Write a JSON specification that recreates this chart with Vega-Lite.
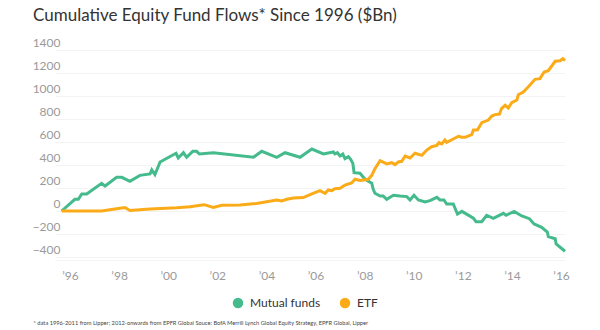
{
  "$schema": "https://vega.github.io/schema/vega-lite/v6.json",
  "autosize": {"type": "none"},
  "padding": {"left": 55, "top": 50, "right": 35, "bottom": 73},
  "width": 510,
  "height": 207,
  "background": "white",
  "title": {
    "text": "Cumulative Equity Fund Flows* Since 1996 ($Bn)",
    "anchor": "start",
    "frame": "group",
    "dx": -22,
    "offset": 12,
    "font": "Lato",
    "fontSize": 17,
    "fontWeight": "normal",
    "color": "#333333"
  },
  "config": {
    "view": {"stroke": null},
    "font": "Lato"
  },
  "data": {
    "values": [
      {"series": "Mutual funds", "t": 1995.66, "v": 0},
      {"series": "Mutual funds", "t": 1996.20, "v": 102},
      {"series": "Mutual funds", "t": 1996.34, "v": 102},
      {"series": "Mutual funds", "t": 1996.48, "v": 148},
      {"series": "Mutual funds", "t": 1996.68, "v": 148},
      {"series": "Mutual funds", "t": 1997.29, "v": 241},
      {"series": "Mutual funds", "t": 1997.43, "v": 217},
      {"series": "Mutual funds", "t": 1997.90, "v": 293},
      {"series": "Mutual funds", "t": 1998.11, "v": 293},
      {"series": "Mutual funds", "t": 1998.44, "v": 258},
      {"series": "Mutual funds", "t": 1998.85, "v": 310},
      {"series": "Mutual funds", "t": 1999.26, "v": 322},
      {"series": "Mutual funds", "t": 1999.33, "v": 357},
      {"series": "Mutual funds", "t": 1999.46, "v": 316},
      {"series": "Mutual funds", "t": 1999.67, "v": 426},
      {"series": "Mutual funds", "t": 2000.32, "v": 502},
      {"series": "Mutual funds", "t": 2000.41, "v": 461},
      {"series": "Mutual funds", "t": 2000.62, "v": 507},
      {"series": "Mutual funds", "t": 2000.75, "v": 467},
      {"series": "Mutual funds", "t": 2001.00, "v": 519},
      {"series": "Mutual funds", "t": 2001.16, "v": 519},
      {"series": "Mutual funds", "t": 2001.27, "v": 496},
      {"series": "Mutual funds", "t": 2001.84, "v": 507},
      {"series": "Mutual funds", "t": 2003.47, "v": 467},
      {"series": "Mutual funds", "t": 2003.81, "v": 519},
      {"series": "Mutual funds", "t": 2004.42, "v": 467},
      {"series": "Mutual funds", "t": 2004.76, "v": 507},
      {"series": "Mutual funds", "t": 2005.37, "v": 467},
      {"series": "Mutual funds", "t": 2005.85, "v": 539},
      {"series": "Mutual funds", "t": 2006.32, "v": 496},
      {"series": "Mutual funds", "t": 2006.73, "v": 513},
      {"series": "Mutual funds", "t": 2006.79, "v": 496},
      {"series": "Mutual funds", "t": 2006.89, "v": 507},
      {"series": "Mutual funds", "t": 2007.00, "v": 478},
      {"series": "Mutual funds", "t": 2007.11, "v": 496},
      {"series": "Mutual funds", "t": 2007.20, "v": 455},
      {"series": "Mutual funds", "t": 2007.34, "v": 472},
      {"series": "Mutual funds", "t": 2007.43, "v": 450},
      {"series": "Mutual funds", "t": 2007.52, "v": 414},
      {"series": "Mutual funds", "t": 2007.57, "v": 333},
      {"series": "Mutual funds", "t": 2007.81, "v": 328},
      {"series": "Mutual funds", "t": 2008.02, "v": 276},
      {"series": "Mutual funds", "t": 2008.29, "v": 241},
      {"series": "Mutual funds", "t": 2008.35, "v": 188},
      {"series": "Mutual funds", "t": 2008.42, "v": 154},
      {"series": "Mutual funds", "t": 2008.63, "v": 130},
      {"series": "Mutual funds", "t": 2008.76, "v": 130},
      {"series": "Mutual funds", "t": 2008.90, "v": 102},
      {"series": "Mutual funds", "t": 2009.17, "v": 137},
      {"series": "Mutual funds", "t": 2009.44, "v": 130},
      {"series": "Mutual funds", "t": 2009.72, "v": 125},
      {"series": "Mutual funds", "t": 2009.85, "v": 96},
      {"series": "Mutual funds", "t": 2010.01, "v": 137},
      {"series": "Mutual funds", "t": 2010.19, "v": 96},
      {"series": "Mutual funds", "t": 2010.46, "v": 78},
      {"series": "Mutual funds", "t": 2010.66, "v": 90},
      {"series": "Mutual funds", "t": 2010.94, "v": 119},
      {"series": "Mutual funds", "t": 2011.07, "v": 96},
      {"series": "Mutual funds", "t": 2011.23, "v": 96},
      {"series": "Mutual funds", "t": 2011.34, "v": 61},
      {"series": "Mutual funds", "t": 2011.61, "v": 61},
      {"series": "Mutual funds", "t": 2011.78, "v": -26},
      {"series": "Mutual funds", "t": 2011.96, "v": -3},
      {"series": "Mutual funds", "t": 2012.43, "v": -63},
      {"series": "Mutual funds", "t": 2012.54, "v": -93},
      {"series": "Mutual funds", "t": 2012.77, "v": -93},
      {"series": "Mutual funds", "t": 2012.97, "v": -37},
      {"series": "Mutual funds", "t": 2013.24, "v": -63},
      {"series": "Mutual funds", "t": 2013.65, "v": -20},
      {"series": "Mutual funds", "t": 2013.76, "v": -37},
      {"series": "Mutual funds", "t": 2014.09, "v": -3},
      {"series": "Mutual funds", "t": 2014.40, "v": -43},
      {"series": "Mutual funds", "t": 2014.71, "v": -67},
      {"series": "Mutual funds", "t": 2014.90, "v": -113},
      {"series": "Mutual funds", "t": 2015.21, "v": -142},
      {"series": "Mutual funds", "t": 2015.44, "v": -183},
      {"series": "Mutual funds", "t": 2015.48, "v": -223},
      {"series": "Mutual funds", "t": 2015.76, "v": -241},
      {"series": "Mutual funds", "t": 2015.80, "v": -287},
      {"series": "Mutual funds", "t": 2016.16, "v": -350},
      {"series": "ETF", "t": 1995.66, "v": 0},
      {"series": "ETF", "t": 1997.29, "v": 0},
      {"series": "ETF", "t": 1997.90, "v": 20},
      {"series": "ETF", "t": 1998.24, "v": 30},
      {"series": "ETF", "t": 1998.44, "v": 5},
      {"series": "ETF", "t": 1999.26, "v": 18},
      {"series": "ETF", "t": 2000.35, "v": 28},
      {"series": "ETF", "t": 2000.89, "v": 37},
      {"series": "ETF", "t": 2001.46, "v": 55},
      {"series": "ETF", "t": 2001.84, "v": 30},
      {"series": "ETF", "t": 2002.18, "v": 50},
      {"series": "ETF", "t": 2002.92, "v": 52},
      {"series": "ETF", "t": 2003.60, "v": 65},
      {"series": "ETF", "t": 2004.42, "v": 96},
      {"series": "ETF", "t": 2004.62, "v": 88},
      {"series": "ETF", "t": 2004.83, "v": 102},
      {"series": "ETF", "t": 2005.10, "v": 113},
      {"series": "ETF", "t": 2005.50, "v": 117},
      {"series": "ETF", "t": 2005.85, "v": 148},
      {"series": "ETF", "t": 2006.18, "v": 177},
      {"series": "ETF", "t": 2006.39, "v": 154},
      {"series": "ETF", "t": 2006.52, "v": 183},
      {"series": "ETF", "t": 2006.66, "v": 177},
      {"series": "ETF", "t": 2006.79, "v": 194},
      {"series": "ETF", "t": 2007.00, "v": 197},
      {"series": "ETF", "t": 2007.20, "v": 226},
      {"series": "ETF", "t": 2007.47, "v": 243},
      {"series": "ETF", "t": 2007.61, "v": 276},
      {"series": "ETF", "t": 2007.81, "v": 265},
      {"series": "ETF", "t": 2008.15, "v": 276},
      {"series": "ETF", "t": 2008.29, "v": 310},
      {"series": "ETF", "t": 2008.42, "v": 368},
      {"series": "ETF", "t": 2008.63, "v": 437},
      {"series": "ETF", "t": 2008.90, "v": 409},
      {"series": "ETF", "t": 2009.10, "v": 420},
      {"series": "ETF", "t": 2009.24, "v": 403},
      {"series": "ETF", "t": 2009.37, "v": 426},
      {"series": "ETF", "t": 2009.51, "v": 432},
      {"series": "ETF", "t": 2009.65, "v": 478},
      {"series": "ETF", "t": 2009.85, "v": 461},
      {"series": "ETF", "t": 2010.05, "v": 502},
      {"series": "ETF", "t": 2010.33, "v": 484},
      {"series": "ETF", "t": 2010.53, "v": 530},
      {"series": "ETF", "t": 2010.73, "v": 559},
      {"series": "ETF", "t": 2010.94, "v": 571},
      {"series": "ETF", "t": 2011.03, "v": 594},
      {"series": "ETF", "t": 2011.14, "v": 583},
      {"series": "ETF", "t": 2011.27, "v": 617},
      {"series": "ETF", "t": 2011.34, "v": 597},
      {"series": "ETF", "t": 2011.61, "v": 626},
      {"series": "ETF", "t": 2011.82, "v": 650},
      {"series": "ETF", "t": 2011.96, "v": 641},
      {"series": "ETF", "t": 2012.09, "v": 641},
      {"series": "ETF", "t": 2012.36, "v": 664},
      {"series": "ETF", "t": 2012.43, "v": 704},
      {"series": "ETF", "t": 2012.59, "v": 704},
      {"series": "ETF", "t": 2012.77, "v": 768},
      {"series": "ETF", "t": 2013.04, "v": 791},
      {"series": "ETF", "t": 2013.18, "v": 826},
      {"series": "ETF", "t": 2013.31, "v": 838},
      {"series": "ETF", "t": 2013.49, "v": 843},
      {"series": "ETF", "t": 2013.58, "v": 893},
      {"series": "ETF", "t": 2013.72, "v": 919},
      {"series": "ETF", "t": 2013.85, "v": 896},
      {"series": "ETF", "t": 2013.99, "v": 942},
      {"series": "ETF", "t": 2014.20, "v": 965},
      {"series": "ETF", "t": 2014.26, "v": 1011},
      {"series": "ETF", "t": 2014.46, "v": 1035},
      {"series": "ETF", "t": 2014.67, "v": 1081},
      {"series": "ETF", "t": 2014.94, "v": 1145},
      {"series": "ETF", "t": 2015.14, "v": 1151},
      {"series": "ETF", "t": 2015.31, "v": 1209},
      {"series": "ETF", "t": 2015.48, "v": 1220},
      {"series": "ETF", "t": 2015.76, "v": 1302},
      {"series": "ETF", "t": 2015.96, "v": 1307},
      {"series": "ETF", "t": 2016.07, "v": 1324},
      {"series": "ETF", "t": 2016.16, "v": 1307}
    ]
  },
  "mark": {"type": "line", "strokeWidth": 3, "clip": false},
  "encoding": {
    "x": {
      "field": "t",
      "type": "quantitative",
      "scale": {"domain": [1995.39, 2016.16], "nice": false, "zero": false},
      "axis": {
        "values": [1996, 1998, 2000, 2002, 2004, 2006, 2008, 2010, 2012, 2014, 2016],
        "labelExpr": "'\u2019' + substring(toString(datum.value), 2, 4)",
        "grid": false,
        "ticks": false,
        "domain": true,
        "domainColor": "#f4f4f4",
        "domainWidth": 1,
        "offset": 3,
        "labelFont": "Lato",
        "labelFontSize": 12,
        "labelColor": "#9a9a9a",
        "labelPadding": 10,
        "labelFlush": false,
        "labelOverlap": false,
        "title": "* data 1996-2011 from Lipper; 2012-onwards from EPFR Global Souce: BofA Merrill Lynch Global Equity Strategy, EPFR Global, Lipper",
        "titleFont": "Lato",
        "titleFontSize": 5.7,
        "titleFontWeight": "normal",
        "titleColor": "#444444",
        "titleAnchor": "start",
        "titleAlign": "left",
        "titleBaseline": "alphabetic",
        "titleX": -22,
        "titleY": 64
      }
    },
    "y": {
      "field": "v",
      "type": "quantitative",
      "scale": {"domain": [-400, 1400], "nice": false, "zero": false},
      "axis": {
        "values": [-400, -200, 0, 200, 400, 600, 800, 1000, 1200, 1400],
        "format": "d",
        "grid": true,
        "gridColor": "#f3f3f3",
        "gridWidth": 1,
        "ticks": false,
        "domain": false,
        "labelFont": "Lato",
        "labelFontSize": 12,
        "labelColor": "#9a9a9a",
        "labelPadding": -5,
        "labelOffset": -7.5,
        "title": null
      }
    },
    "color": {
      "field": "series",
      "type": "nominal",
      "scale": {"domain": ["Mutual funds", "ETF"], "range": ["#45BB8D", "#FBAB18"]},
      "legend": {
        "title": null,
        "orient": "none",
        "direction": "horizontal",
        "legendX": 177,
        "legendY": 247,
        "symbolType": "circle",
        "symbolSize": 110,
        "symbolStrokeWidth": 0,
        "symbolOpacity": 1,
        "labelFont": "Lato",
        "labelFontSize": 12,
        "labelColor": "#333333",
        "columnPadding": 18,
        "labelOffset": 6,
        "encode": {
          "symbols": {
            "update": {
              "fill": {"scale": "color", "field": "value"},
              "strokeWidth": {"value": 0}
            }
          }
        }
      }
    }
  }
}
